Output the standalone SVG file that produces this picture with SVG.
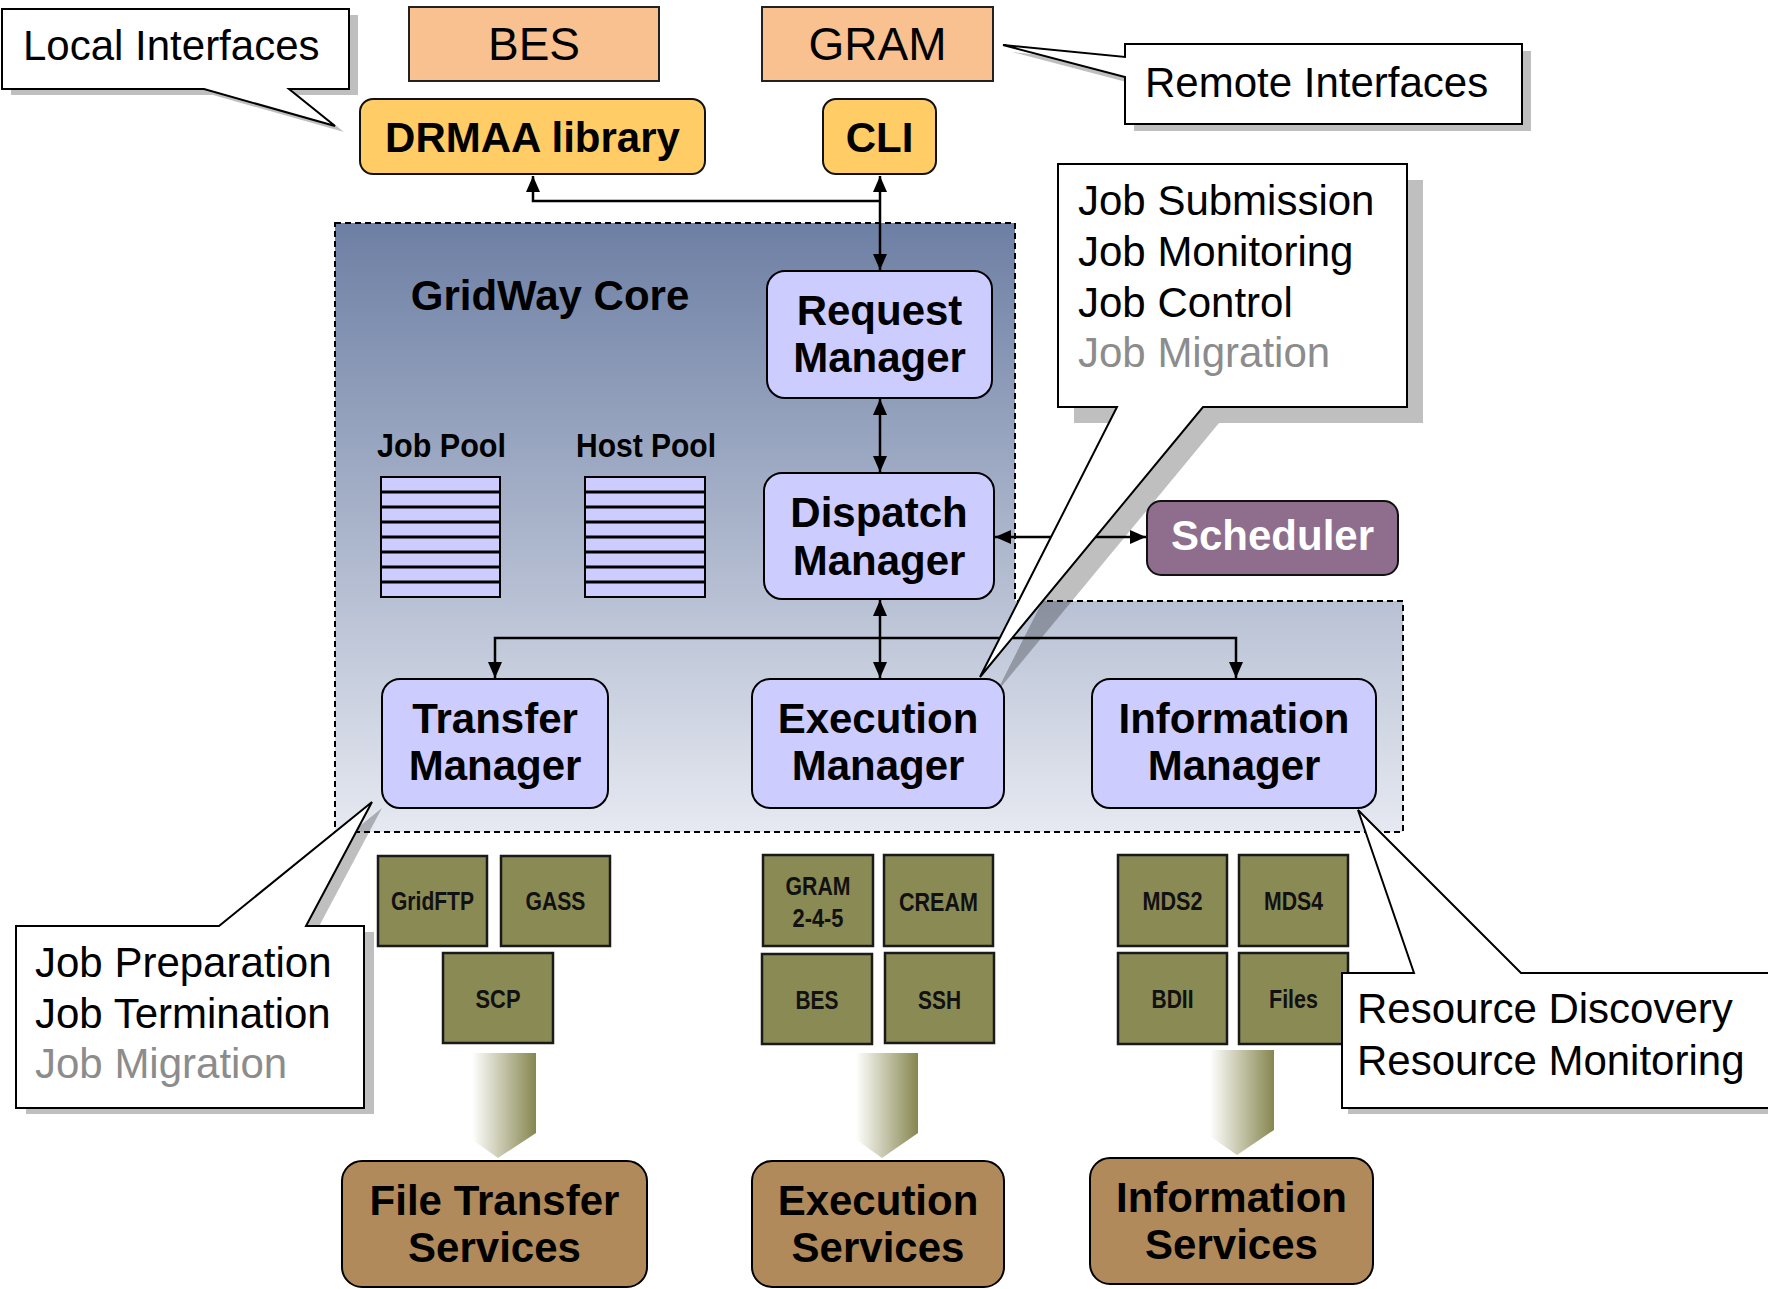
<svg xmlns="http://www.w3.org/2000/svg" width="1768" height="1289" viewBox="0 0 1768 1289">
<defs>
<style>
text{font-family:"Liberation Sans",Arial,Helvetica,sans-serif;fill:#000}
.m{text-anchor:middle}
.r42{font-size:42px}
.b42{font-size:42px;font-weight:bold}
.gray{fill:#8c8c8c}
.top{fill:#F9C090;stroke:#222;stroke-width:2}
.iface{fill:#FFCC66;stroke:#111;stroke-width:2}
.mgr{fill:#CCCCFF;stroke:#000;stroke-width:2}
.tool{fill:#8A8A55;stroke:#1a1a1a;stroke-width:2.5}
.tt{font-size:25px;font-weight:bold;text-anchor:middle;fill:#111}
.svc{fill:#B08A5A;stroke:#000;stroke-width:2}
.callout{fill:#fff;stroke:#000;stroke-width:2;stroke-linejoin:miter}
.shadow{fill:#000;fill-opacity:0.25}
.conn{fill:none;stroke:#000;stroke-width:2.5}
.pool{fill:#CCCCFF;stroke:#000;stroke-width:2}
.pl{stroke:#000;stroke-width:3}
</style>
<linearGradient id="coreGrad" gradientUnits="userSpaceOnUse" x1="0" y1="223" x2="0" y2="832">
<stop offset="0" stop-color="#6D7FA4"/>
<stop offset="1" stop-color="#E6E9F1"/>
</linearGradient>
<linearGradient id="fade" x1="0" y1="0" x2="1" y2="0">
<stop offset="0" stop-color="#FFFFFF"/>
<stop offset="0.12" stop-color="#FFFFFF"/>
<stop offset="1" stop-color="#86864F"/>
</linearGradient>
<marker id="ah" viewBox="0 0 16 14" refX="16" refY="7" markerWidth="16" markerHeight="14" markerUnits="userSpaceOnUse" orient="auto-start-reverse">
<path d="M0,0 L16,7 L0,14 Z" fill="#000"/>
</marker>
</defs>
<rect width="1768" height="1289" fill="#fff"/>

<g id="gridway-core">
<path d="M335,223 H1015 V601 H1403 V832 H335 Z" fill="url(#coreGrad)" stroke="#000" stroke-width="2" stroke-dasharray="6 4"/>
<text x="550" y="310" class="b42 m">GridWay Core</text>
</g>

<g id="job-pool">
<text x="377" y="457" font-size="33" font-weight="bold" textLength="129" lengthAdjust="spacingAndGlyphs">Job Pool</text>
<rect x="381" y="477" width="119" height="120" class="pool"/>
<path class="pl" d="M381,492H500M381,507H500M381,522H500M381,537H500M381,552H500M381,567H500M381,582H500"/>
</g>
<g id="host-pool">
<text x="576" y="457" font-size="33" font-weight="bold" textLength="140" lengthAdjust="spacingAndGlyphs">Host Pool</text>
<rect x="585" y="477" width="120" height="120" class="pool"/>
<path class="pl" d="M585,492H705M585,507H705M585,522H705M585,537H705M585,552H705M585,567H705M585,582H705"/>
</g>

<g id="shadows">
<path class="shadow" transform="translate(9,6)" d="M2,9 H349 V89 H289 L335,126 L204,89 H2 Z"/>
<path class="shadow" transform="translate(9,7)" d="M1125,44 H1522 V124 H1125 V77 L1003,45 L1125,57 Z"/>
<path class="shadow" transform="translate(16,16)" d="M1058,164 H1407 V407 H1203 L980,677 L1117,407 H1058 Z"/>
<path class="shadow" transform="translate(10,6)" d="M16,926 H219 L372,802 L306,926 H364 V1108 H16 Z"/>
<path class="shadow" transform="translate(6,6)" d="M1342,973 H1414 L1358,810 L1521,973 H1775 V1108 H1342 Z"/>
</g>

<g id="connectors">
<path class="conn" d="M880,270 V176" marker-start="url(#ah)" marker-end="url(#ah)"/>
<path class="conn" d="M880,201 H533 V176" marker-end="url(#ah)"/>
<path class="conn" d="M880,399 V472" marker-start="url(#ah)" marker-end="url(#ah)"/>
<path class="conn" d="M995,537 H1146" marker-start="url(#ah)" marker-end="url(#ah)"/>
<path class="conn" d="M880,600 V678" marker-start="url(#ah)" marker-end="url(#ah)"/>
<path class="conn" d="M495,678 V638 H1236 V678" marker-start="url(#ah)" marker-end="url(#ah)"/>
</g>

<g id="bes-top"><rect x="409" y="7" width="250" height="74" class="top"/><text x="534" y="60" font-size="46" class="m">BES</text></g>
<g id="gram-top"><rect x="762" y="7" width="231" height="74" class="top"/><text x="877.5" y="60" font-size="46" class="m">GRAM</text></g>
<g id="drmaa"><rect x="360" y="99" width="345" height="75" rx="13" class="iface"/><text x="532.5" y="152" class="b42 m">DRMAA library</text></g>
<g id="cli"><rect x="823" y="99" width="113" height="75" rx="13" class="iface"/><text x="879.5" y="152" class="b42 m">CLI</text></g>

<g id="request-manager"><rect x="767" y="271" width="225" height="127" rx="18" class="mgr"/><text x="879.5" y="325" class="b42 m">Request</text><text x="879.5" y="372" class="b42 m">Manager</text></g>
<g id="dispatch-manager"><rect x="764" y="473" width="230" height="126" rx="18" class="mgr"/><text x="879" y="527" class="b42 m">Dispatch</text><text x="879" y="575" class="b42 m">Manager</text></g>
<g id="scheduler"><rect x="1147" y="501" width="251" height="74" rx="14" fill="#8E6E8C" stroke="#111" stroke-width="2"/><text x="1272.5" y="550" class="b42 m" style="fill:#fff">Scheduler</text></g>
<g id="transfer-manager"><rect x="382" y="679" width="226" height="129" rx="18" class="mgr"/><text x="495" y="733" class="b42 m">Transfer</text><text x="495" y="780" class="b42 m">Manager</text></g>
<g id="execution-manager"><rect x="752" y="679" width="252" height="129" rx="18" class="mgr"/><text x="878" y="733" class="b42 m">Execution</text><text x="878" y="780" class="b42 m">Manager</text></g>
<g id="information-manager"><rect x="1092" y="679" width="284" height="129" rx="18" class="mgr"/><text x="1234" y="733" class="b42 m">Information</text><text x="1234" y="780" class="b42 m">Manager</text></g>

<g id="gridftp"><rect x="378" y="856" width="109" height="90" class="tool"/><text x="432.5" y="910" class="tt" textLength="83" lengthAdjust="spacingAndGlyphs">GridFTP</text></g>
<g id="gass"><rect x="501" y="856" width="109" height="90" class="tool"/><text x="555.5" y="910" class="tt" textLength="60" lengthAdjust="spacingAndGlyphs">GASS</text></g>
<g id="scp"><rect x="443" y="953" width="110" height="90" class="tool"/><text x="498" y="1008" class="tt" textLength="45" lengthAdjust="spacingAndGlyphs">SCP</text></g>
<g id="gram245"><rect x="763" y="855" width="110" height="91" class="tool"/><text x="818" y="895" class="tt" textLength="65" lengthAdjust="spacingAndGlyphs">GRAM</text><text x="818" y="927" class="tt" textLength="51" lengthAdjust="spacingAndGlyphs">2-4-5</text></g>
<g id="cream"><rect x="884" y="855" width="109" height="91" class="tool"/><text x="938.5" y="911" class="tt" textLength="79" lengthAdjust="spacingAndGlyphs">CREAM</text></g>
<g id="bes-tool"><rect x="762" y="954" width="110" height="90" class="tool"/><text x="817" y="1009" class="tt" textLength="43" lengthAdjust="spacingAndGlyphs">BES</text></g>
<g id="ssh"><rect x="885" y="953" width="109" height="90" class="tool"/><text x="939.5" y="1009" class="tt" textLength="43" lengthAdjust="spacingAndGlyphs">SSH</text></g>
<g id="mds2"><rect x="1118" y="855" width="109" height="91" class="tool"/><text x="1172.5" y="910" class="tt" textLength="60" lengthAdjust="spacingAndGlyphs">MDS2</text></g>
<g id="mds4"><rect x="1239" y="855" width="109" height="91" class="tool"/><text x="1293.5" y="910" class="tt" textLength="59" lengthAdjust="spacingAndGlyphs">MDS4</text></g>
<g id="bdii"><rect x="1118" y="953" width="109" height="91" class="tool"/><text x="1172.5" y="1008" class="tt" textLength="42" lengthAdjust="spacingAndGlyphs">BDII</text></g>
<g id="files"><rect x="1239" y="953" width="109" height="91" class="tool"/><text x="1293.5" y="1008" class="tt" textLength="49" lengthAdjust="spacingAndGlyphs">Files</text></g>

<g id="flow-arrows">
<path d="M463,1053 H536 V1133 L498,1158 L463,1133 Z" fill="url(#fade)"/>
<path d="M847,1053 H918 V1133 L882,1158 L847,1133 Z" fill="url(#fade)"/>
<path d="M1201,1050 H1274 V1130 L1237,1155 L1201,1130 Z" fill="url(#fade)"/>
</g>

<g id="file-transfer-services"><rect x="342" y="1161" width="305" height="126" rx="20" class="svc"/><text x="494.5" y="1215" class="b42 m">File Transfer</text><text x="494.5" y="1262" class="b42 m">Services</text></g>
<g id="execution-services"><rect x="752" y="1161" width="252" height="126" rx="20" class="svc"/><text x="878" y="1215" class="b42 m">Execution</text><text x="878" y="1262" class="b42 m">Services</text></g>
<g id="information-services"><rect x="1090" y="1158" width="283" height="126" rx="20" class="svc"/><text x="1231.5" y="1212" class="b42 m">Information</text><text x="1231.5" y="1259" class="b42 m">Services</text></g>

<g id="callout-local">
<path class="callout" d="M2,9 H349 V89 H289 L335,126 L204,89 H2 Z"/>
<text x="23" y="60" class="r42">Local Interfaces</text>
</g>
<g id="callout-remote">
<path class="callout" d="M1125,44 H1522 V124 H1125 V77 L1003,45 L1125,57 Z"/>
<text x="1145" y="97" class="r42">Remote Interfaces</text>
</g>
<g id="callout-request">
<path class="callout" d="M1058,164 H1407 V407 H1203 L980,677 L1117,407 H1058 Z"/>
<text x="1078" y="215" class="r42">Job Submission</text>
<text x="1078" y="266" class="r42">Job Monitoring</text>
<text x="1078" y="317" class="r42">Job Control</text>
<text x="1078" y="367" class="r42 gray">Job Migration</text>
</g>
<g id="callout-transfer">
<path class="callout" d="M16,926 H219 L372,802 L306,926 H364 V1108 H16 Z"/>
<text x="35" y="977" class="r42">Job Preparation</text>
<text x="35" y="1028" class="r42">Job Termination</text>
<text x="35" y="1078" class="r42 gray">Job Migration</text>
</g>
<g id="callout-information">
<path class="callout" d="M1342,973 H1414 L1358,810 L1521,973 H1775 V1108 H1342 Z"/>
<text x="1357" y="1023" class="r42">Resource Discovery</text>
<text x="1357" y="1075" class="r42">Resource Monitoring</text>
</g>
</svg>
